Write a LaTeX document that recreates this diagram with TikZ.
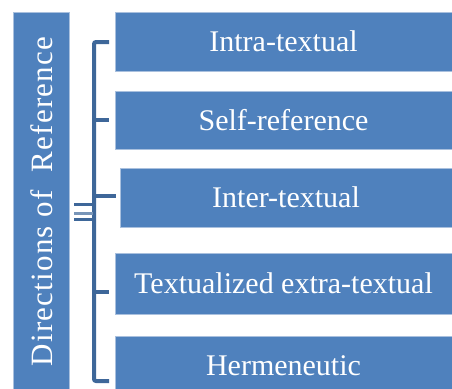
\documentclass[tikz,border=0pt]{standalone}
\usepackage{fontspec}
\setmainfont{Liberation Serif}
\newfontfamily\spacedserif[LetterSpace=4]{Liberation Serif}
\definecolor{boxblue}{HTML}{4F81BD}
\definecolor{boxedge}{HTML}{A9C0DE}
\definecolor{brackblue}{HTML}{3E6799}
\begin{document}
\begin{tikzpicture}[x=1pt,y=-1pt,
  item/.style={rectangle, fill=boxblue, draw=boxedge, line width=0.8pt,
    text=white, font=\fontsize{30}{36}\selectfont, inner sep=0pt},
  brack/.style={draw=brackblue, line width=4pt},
  eqline/.style={draw=brackblue, line width=3pt}]
\clip (0,0) rectangle (452,388);
\fill[white] (0,0) rectangle (452,388);
% title box
\node[item, minimum width=56pt, minimum height=383pt] (title) at (41,203.5) {};
\node[text=white, rotate=90, font=\spacedserif\fontsize{31}{37}\selectfont, inner sep=0pt] (tlabel) at (42,201.5) {Directions of\ \ Reference};
% right boxes
\node[item, minimum width=337pt, minimum height=59pt] (b1) at (283.5,41.5) {Intra-textual};
\node[item, minimum width=337pt, minimum height=58pt] (b2) at (283.5,120) {Self-reference};
\node[item, minimum width=332pt, minimum height=59pt] (b3) at (286,197.5) {Inter-textual};
\node[item, minimum width=337pt, minimum height=61pt] (b4) at (283.5,283.5) {Textualized extra-textual};
\node[item, minimum width=337pt, minimum height=60pt] (b5) at (283.5,366) {Hermeneutic};
% bracket
\coordinate (t1) at (109,42);
\coordinate (t2) at (109,120);
\coordinate (t3) at (116,196);
\coordinate (t4) at (109,292);
\coordinate (t5) at (109,381);
\coordinate (vtop) at (94,42);
\coordinate (vbot) at (94,381);
\draw[brack, rounded corners=2pt] (t1) -- (vtop) -- (vbot) -- (t5);
\draw[brack] (94,120) -- (t2);
\draw[brack] (94,196) -- (t3);
\draw[brack] (94,292) -- (t4);
% triple line
\draw[eqline] (74,204.5) -- (93,204.5);
\draw[eqline, draw=brackblue!70!white] (74,213) -- (93,213);
\draw[eqline] (74,219.5) -- (93,219.5);
\end{tikzpicture}
\end{document}
